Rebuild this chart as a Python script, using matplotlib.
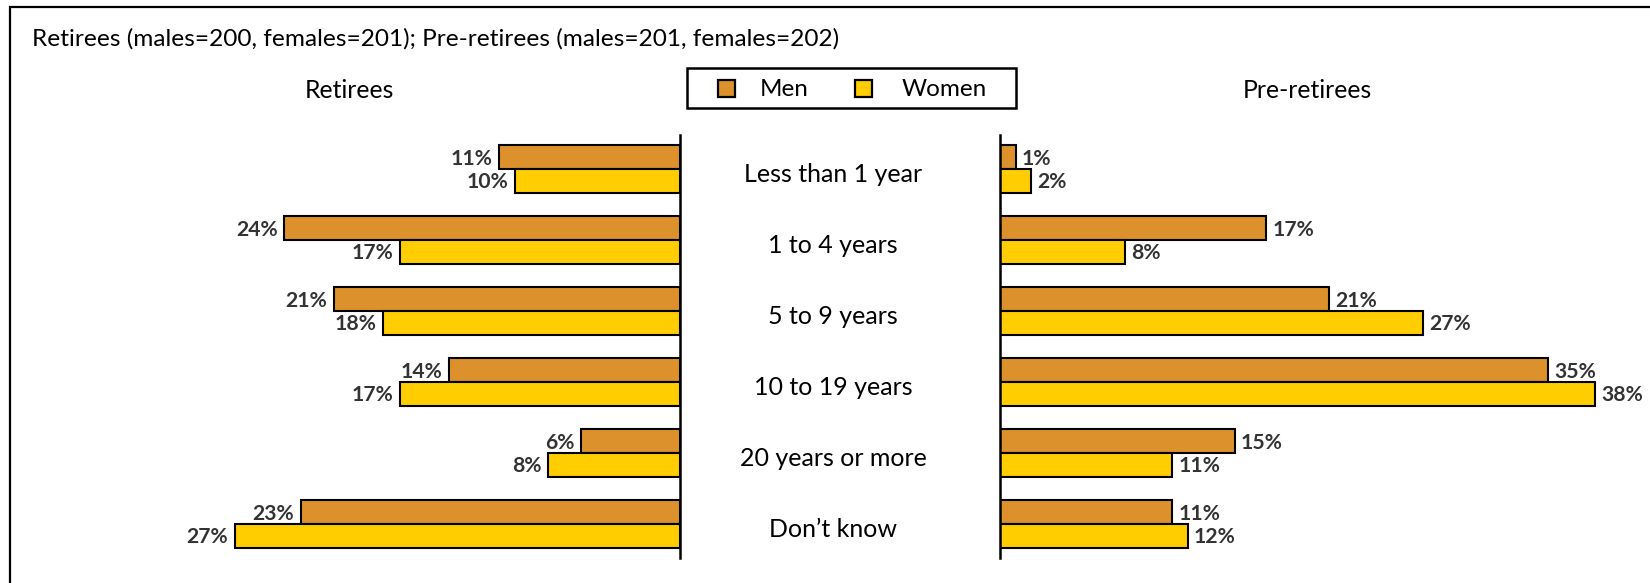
import matplotlib
matplotlib.use("Agg")
import matplotlib.pyplot as plt
from matplotlib.patches import Rectangle
import numpy as np

plt.rcParams['font.family'] = ['Lato', 'DejaVu Sans']

categories = ["Less than 1 year", "1 to 4 years", "5 to 9 years",
              "10 to 19 years", "20 years or more", "Don\u2019t know"]
retirees_men = [11, 24, 21, 14, 6, 23]
retirees_women = [10, 17, 18, 17, 8, 27]
pre_men = [1, 17, 21, 35, 15, 11]
pre_women = [2, 8, 27, 38, 11, 12]
series_names = ["Men", "Women"]
panel_titles = ["Retirees", "Pre-retirees"]

title = "Retirees (males=200, females=201); Pre-retirees (males=201, females=202)"
men_color = "#DC912C"
women_color = "#FFCD00"

W, H = 1650, 583
fig = plt.figure(figsize=(W / 100, H / 100), dpi=100)

def fx(px):
    return px / W

def fy(py):
    return 1 - py / H

# outer frame
fig.patches.append(Rectangle((fx(10), fy(700)), 1.2, fy(7) - fy(700),
                             transform=fig.transFigure, fill=False,
                             edgecolor="black", linewidth=1.6, zorder=0))

y = np.arange(len(categories))
bh = 0.333
top_px, bot_px = 135, 558
ax_b = fy(bot_px)
ax_h = fy(top_px) - fy(bot_px)

left_px0, left_px1 = 180, 680
axL = fig.add_axes([fx(left_px0), ax_b, fx(left_px1 - left_px0), ax_h])
axL.set_xlim((left_px1 - left_px0) / 16.5, 0)
right_px0, right_px1 = 1000, 1640
axR = fig.add_axes([fx(right_px0), ax_b, fx(right_px1 - right_px0), ax_h])
axR.set_xlim(0, (right_px1 - right_px0) / 15.65)

for ax, men, women, side in ((axL, retirees_men, retirees_women, "L"),
                             (axR, pre_men, pre_women, "R")):
    ax.set_ylim(len(categories) - 1 + 0.479, -0.479)
    ax.barh(y - bh / 2, men, height=bh, color=men_color, edgecolor="black", linewidth=1.5, zorder=3)
    ax.barh(y + bh / 2, women, height=bh, color=women_color, edgecolor="black", linewidth=1.5, zorder=3)
    for s in ax.spines.values():
        s.set_visible(False)
    sp = ax.spines["right" if side == "L" else "left"]
    sp.set_visible(True)
    sp.set_linewidth(1.8)
    sp.set_zorder(4)
    ax.set_xticks([])
    ax.set_yticks([])
    ax.patch.set_alpha(0)
    ha = "right" if side == "L" else "left"
    off = -4.5 if side == "L" else 4.5
    for vals, dy in ((men, -bh / 2), (women, bh / 2)):
        for i, v in enumerate(vals):
            ax.annotate(f"{v}%", (v, i + dy), xytext=(off, -1.2), textcoords="offset points",
                        ha=ha, va="center", fontsize=15.2, fontweight="bold", color="#333333")

for i, c in enumerate(categories):
    yy = axL.transData.transform((0, i))[1]
    yf = fig.transFigure.inverted().transform((0, yy))[1]
    fig.text(fx(833), yf - 0.009, c, ha="center", va="center", fontsize=18, color="black")

fig.text(fx(32), fy(39), title, ha="left", va="center", fontsize=17.6, color="black")
fig.text(fx(349), fy(90), panel_titles[0], ha="center", va="center", fontsize=17.8, color="black")
fig.text(fx(1307), fy(90), panel_titles[1], ha="center", va="center", fontsize=17.8, color="black")

# legend drawn manually
fig.patches.append(Rectangle((fx(687), fy(108)), fx(1016 - 687), fy(68) - fy(108),
                             transform=fig.transFigure, facecolor="white",
                             edgecolor="black", linewidth=1.8))
for name, col, cx, tx in ((series_names[0], men_color, 726, 760),
                          (series_names[1], women_color, 864, 902)):
    fig.patches.append(Rectangle((fx(cx - 8.5), fy(96.5)), fx(17), fy(80) - fy(96.5),
                                 transform=fig.transFigure, facecolor=col,
                                 edgecolor="black", linewidth=1.6))
    fig.text(fx(tx), fy(89), name, ha="left", va="center", fontsize=17.5, color="black")

fig.savefig("out.png", dpi=100)
